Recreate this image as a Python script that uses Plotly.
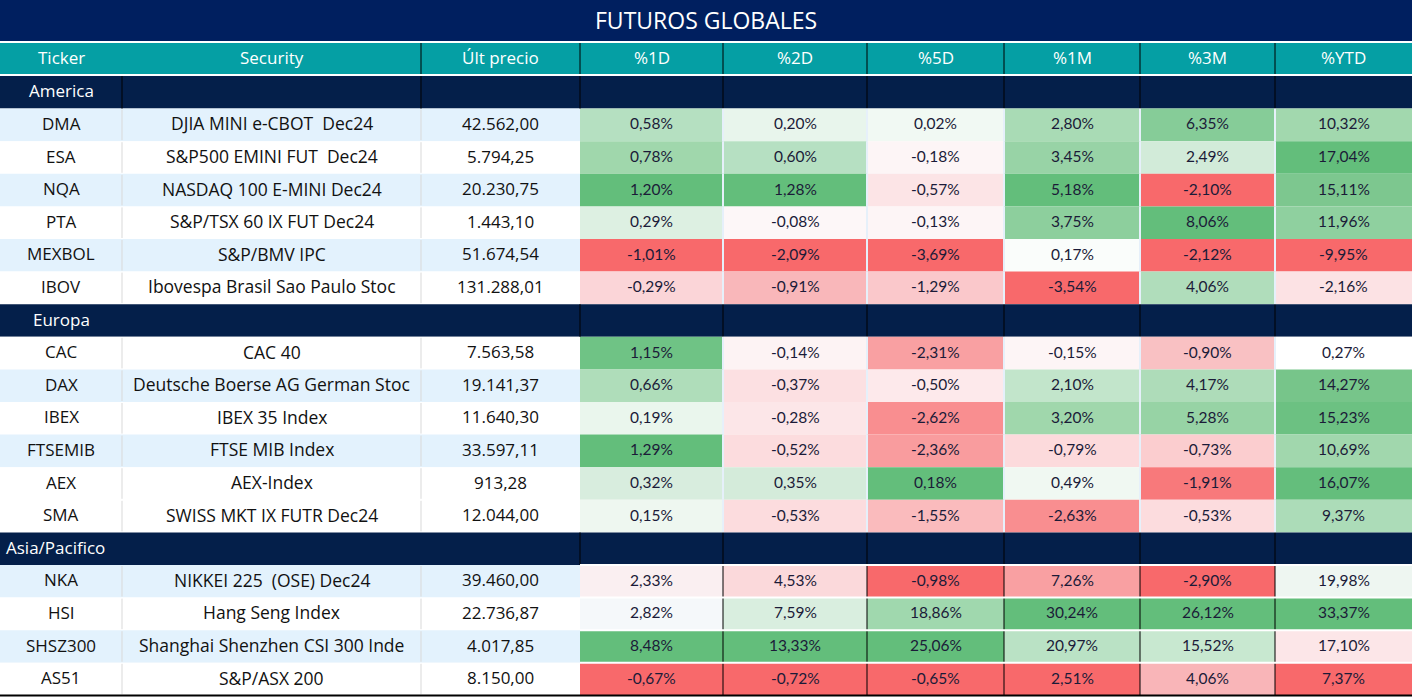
import plotly.graph_objects as go

# ---------------- data ----------------
TITLE = "FUTUROS GLOBALES"
HEADERS = ["Ticker", "Security", "Últ precio", "%1D", "%2D", "%5D", "%1M", "%3M", "%YTD"]
REGIONS = ["America", "Europa", "Asia/Pacifico"]

america_tickers = ["DMA", "ESA", "NQA", "PTA", "MEXBOL", "IBOV"]
america_names = ["DJIA MINI e-CBOT  Dec24", "S&P500 EMINI FUT  Dec24", "NASDAQ 100 E-MINI Dec24",
                 "S&P/TSX 60 IX FUT Dec24", "S&P/BMV IPC", "Ibovespa Brasil Sao Paulo Stoc"]
america_prices = [42562.00, 5794.25, 20230.75, 1443.10, 51674.54, 131288.01]
america_returns = [
    [0.58, 0.20, 0.02, 2.80, 6.35, 10.32],
    [0.78, 0.60, -0.18, 3.45, 2.49, 17.04],
    [1.20, 1.28, -0.57, 5.18, -2.10, 15.11],
    [0.29, -0.08, -0.13, 3.75, 8.06, 11.96],
    [-1.01, -2.09, -3.69, 0.17, -2.12, -9.95],
    [-0.29, -0.91, -1.29, -3.54, 4.06, -2.16],
]

europa_tickers = ["CAC", "DAX", "IBEX", "FTSEMIB", "AEX", "SMA"]
europa_names = ["CAC 40", "Deutsche Boerse AG German Stoc", "IBEX 35 Index", "FTSE MIB Index",
                "AEX-Index", "SWISS MKT IX FUTR Dec24"]
europa_prices = [7563.58, 19141.37, 11640.30, 33597.11, 913.28, 12044.00]
europa_returns = [
    [1.15, -0.14, -2.31, -0.15, -0.90, 0.27],
    [0.66, -0.37, -0.50, 2.10, 4.17, 14.27],
    [0.19, -0.28, -2.62, 3.20, 5.28, 15.23],
    [1.29, -0.52, -2.36, -0.79, -0.73, 10.69],
    [0.32, 0.35, 0.18, 0.49, -1.91, 16.07],
    [0.15, -0.53, -1.55, -2.63, -0.53, 9.37],
]

asia_tickers = ["NKA", "HSI", "SHSZ300", "AS51"]
asia_names = ["NIKKEI 225  (OSE) Dec24", "Hang Seng Index", "Shanghai Shenzhen CSI 300 Inde", "S&P/ASX 200"]
asia_prices = [39460.00, 22736.87, 4017.85, 8150.00]
asia_returns = [
    [2.33, 4.53, -0.98, 7.26, -2.90, 19.98],
    [2.82, 7.59, 18.86, 30.24, 26.12, 33.37],
    [8.48, 13.33, 25.06, 20.97, 15.52, 17.10],
    [-0.67, -0.72, -0.65, 2.51, 4.06, 7.37],
]

# ---------------- styles ----------------
america_colors = [
    ["#B5E0C1", "#E8F5EC", "#F1F9F3", "#A9DBB5", "#86CC98", "#A2D8AE"],
    ["#A0D7AC", "#B6E0C2", "#FDF5F6", "#98D3A6", "#D2EBD9", "#63BE7B"],
    ["#63BE7B", "#63BE7B", "#FCE4E6", "#63BE7B", "#F8696B", "#7DC78F"],
    ["#DDF0E2", "#FDF7F8", "#FDF5F6", "#8DCF9D", "#63BE7B", "#8FD09F"],
    ["#F8696B", "#F8696B", "#F8696B", "#FAFDFB", "#F8696B", "#F8696B"],
    ["#FBD5D8", "#F9B7BA", "#FAC8CB", "#F8696B", "#B0DDBB", "#FCE2E4"],
]
europa_colors = [
    ["#6FC385", "#FDF3F4", "#F9A0A2", "#FDF5F6", "#F9C1C3", "#FFFFFF"],
    ["#AFDDBA", "#FCE0E2", "#FDE9EB", "#C2E5CB", "#AEDCB9", "#77C58A"],
    ["#EAF6ED", "#FCE6E8", "#F98E90", "#A0D7AC", "#97D3A5", "#6CC182"],
    ["#63BE7B", "#FCDCDE", "#F99C9E", "#FCDADC", "#FBCDCF", "#A1D7AD"],
    ["#D8EDDE", "#D4EBDA", "#63BE7B", "#F0F8F2", "#F8797B", "#64BE7C"],
    ["#EEF7F0", "#FCDCDE", "#FABBBD", "#F98E90", "#FCDCDE", "#ACDCB8"],
]
asia_colors = [
    ["#FAEFF1", "#FBD9DB", "#F8696B", "#F9A0A2", "#F8696B", "#EEF6F1"],
    ["#F5F8FA", "#D9EEDF", "#A0D8AE", "#63BE7B", "#63BE7B", "#63BE7B"],
    ["#63BE7B", "#63BE7B", "#63BE7B", "#BAE2C5", "#C8E8D0", "#FCE6E8"],
    ["#F8696B", "#F8696B", "#F8696B", "#F8696B", "#F9B5B8", "#F8696B"],
]
america_stripes = [True, False, True, False, True, False]
europa_stripes = [False, True, False, True, False, False]
asia_stripes = [True, False, True, False]

W, H = 1412, 697
COL_EDGES = [0, 122, 421, 580, 723, 867, 1004, 1140, 1275, 1412]
TITLE_BOTTOM = 41
HEAD_TOP, HEAD_BOTTOM = 43, 74
BODY_TOP = 76
ROW_H = 32.6
TXT_DY = -1.5

NAVY_TITLE = "#001F5F"
NAVY_REGION = "#041F4A"
TEAL = "#059FA4"
STRIPE = "#E3F2FD"
FONT = "Open Sans"
NUM_FONT = "Lato"
TXT_DARK = "#1B1B38"


def fmt_price(v):
    s = f"{v:,.2f}"
    return s.replace(",", "X").replace(".", ",").replace("X", ".")


def fmt_pct(v):
    return f"{v:.2f}".replace(".", ",") + "%"


fig = go.Figure()
fig.add_trace(go.Scatter(x=[0, W], y=[0, H], mode="markers", marker=dict(opacity=0),
                         hoverinfo="skip", showlegend=False))
shapes = []
annotations = []


def rect(x0, x1, y0, y1, fill):
    shapes.append(dict(type="rect", xref="x", yref="y", x0=x0, x1=x1, y0=y0, y1=y1,
                       fillcolor=fill, line=dict(width=0), layer="below"))


def vline(x, y0, y1, color, width=1):
    shapes.append(dict(type="line", xref="x", yref="y", x0=x, x1=x, y0=y0, y1=y1,
                       line=dict(color=color, width=width), layer="above"))


def hline(y, x0, x1, color, width=1):
    shapes.append(dict(type="line", xref="x", yref="y", x0=x0, x1=x1, y0=y, y1=y,
                       line=dict(color=color, width=width), layer="above"))


def text(x, y, s, size=15, color=TXT_DARK, anchor="center", family=FONT):
    annotations.append(dict(x=x, y=y + TXT_DY, xref="x", yref="y", text=s, showarrow=False,
                            xanchor=anchor, yanchor="middle",
                            font=dict(family=family, size=size, color=color)))


# title
rect(0, W, 0, TITLE_BOTTOM, NAVY_TITLE)
text(W / 2, TITLE_BOTTOM / 2 + 1, TITLE, size=23, color="white")

# header
rect(0, W, HEAD_TOP, HEAD_BOTTOM, TEAL)
for i, h in enumerate(HEADERS):
    text((COL_EDGES[i] + COL_EDGES[i + 1]) / 2, (HEAD_TOP + HEAD_BOTTOM) / 2, h, size=17, color="white")
for x in COL_EDGES[2:-1]:
    vline(x, HEAD_TOP, HEAD_BOTTOM, "#000000", 1)

groups = [
    (REGIONS[0], america_tickers, america_names, america_prices, america_returns, america_colors, america_stripes),
    (REGIONS[1], europa_tickers, europa_names, europa_prices, europa_returns, europa_colors, europa_stripes),
    (REGIONS[2], asia_tickers, asia_names, asia_prices, asia_returns, asia_colors, asia_stripes),
]

row = 0
for gi, (region, tick, names, prices, rets, cols, stripes) in enumerate(groups):
    y0 = BODY_TOP + row * ROW_H
    y1 = y0 + ROW_H
    rect(0, W, y0, y1, NAVY_REGION)
    if gi == 2:
        text(4, (y0 + y1) / 2, region, size=17, color="white", anchor="left")
    else:
        text((COL_EDGES[0] + COL_EDGES[1]) / 2, (y0 + y1) / 2, region, size=17, color="white")
    start = 1 if gi == 0 else 3
    for x in COL_EDGES[start:-1]:
        vline(x, y0, y1, "#000000", 1)
    row += 1
    for r in range(len(tick)):
        y0 = BODY_TOP + row * ROW_H
        y1 = y0 + ROW_H
        ym = (y0 + y1) / 2
        bg = STRIPE if stripes[r] else "#FFFFFF"
        rect(0, COL_EDGES[3], y0, y1, bg)
        vline(COL_EDGES[1], y0 + 1, y1 - 1, "#D9D9D9", 1)
        vline(COL_EDGES[2], y0 + 1, y1 - 1, "#D9D9D9", 1)
        text((COL_EDGES[0] + COL_EDGES[1]) / 2, ym, tick[r], size=17, color="#111111")
        text((COL_EDGES[1] + COL_EDGES[2]) / 2, ym, names[r], size=17.5, color="#111111")
        text((COL_EDGES[2] + COL_EDGES[3]) / 2, ym, fmt_price(prices[r]), size=17, color="#111111")
        for c in range(6):
            xa, xb = COL_EDGES[3 + c], COL_EDGES[4 + c]
            rect(xa, xb, y0, y1, cols[r][c])
            text((xa + xb) / 2, ym, fmt_pct(rets[r][c]), size=15.5, color=TXT_DARK, family=NUM_FONT)
        sep = "#000000" if gi == 2 else "#E6F0FA"
        sw = 1 if gi == 2 else 2
        for x in COL_EDGES[4:-1]:
            vline(x, y0, y1, sep, sw)
        if gi == 2:
            hline(y0, COL_EDGES[3], W, "#FFFFFF", 2)
        row += 1

# bottom border
hline(BODY_TOP + row * ROW_H, 0, W, "#000000", 2)

fig.update_layout(
    width=W, height=H, autosize=False,
    margin=dict(l=0, r=0, t=0, b=0, pad=0),
    paper_bgcolor="white", plot_bgcolor="white",
    xaxis=dict(range=[0, W], visible=False, fixedrange=True),
    yaxis=dict(range=[H, 0], visible=False, fixedrange=True),
    shapes=shapes, annotations=annotations, showlegend=False,
)
fig.write_html("out.html", config={"displayModeBar": False},
               post_script="document.body.style.margin='0';document.body.style.padding='0';")
